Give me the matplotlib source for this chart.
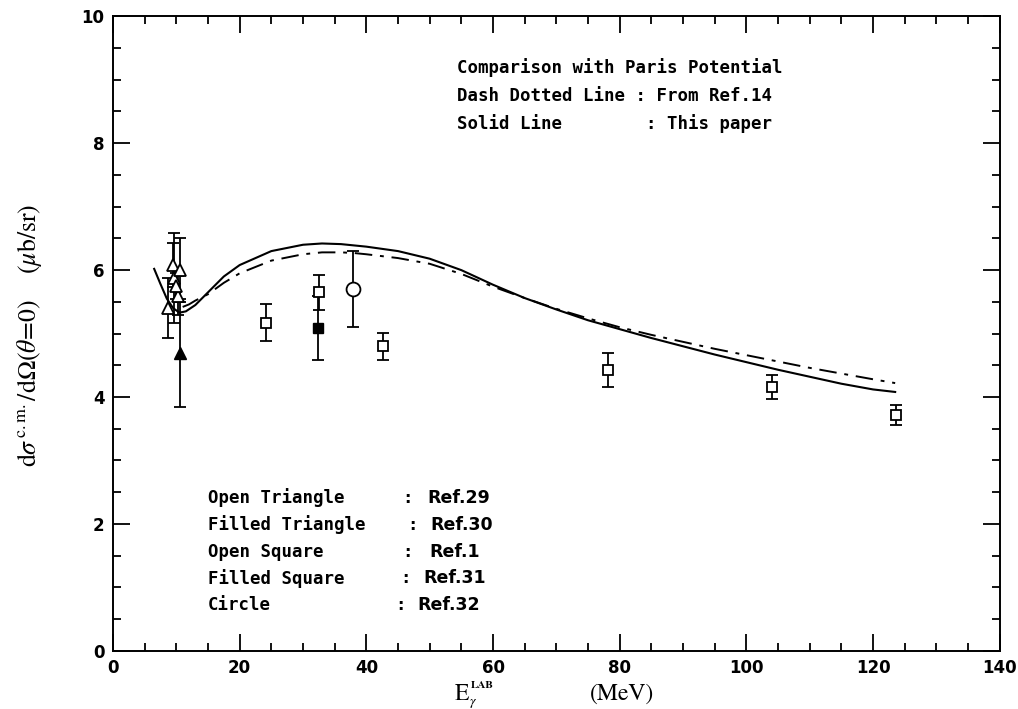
import matplotlib.pyplot as plt
import numpy as np

# --- data ---
# theory curves
solid_x = [6.5, 7.5, 8.5, 9.5, 10.5, 11.5, 13, 15, 17.5, 20, 25, 30, 33, 36, 40, 45, 50,
           55, 60, 65, 70, 75, 80, 85, 90, 95, 100, 105, 110, 115, 120, 123.5]
solid_y = [6.02, 5.78, 5.55, 5.40, 5.33, 5.35, 5.45, 5.65, 5.90, 6.08, 6.30, 6.40, 6.42,
           6.41, 6.37, 6.30, 6.18, 6.00, 5.77, 5.56, 5.38, 5.21, 5.07, 4.93, 4.80, 4.67,
           4.55, 4.43, 4.32, 4.21, 4.12, 4.08]

dashdot_x = [11, 12, 13, 15, 17.5, 20, 25, 30, 33, 36, 38, 40, 45, 50, 55, 60, 65, 70, 75,
             80, 85, 90, 95, 100, 105, 110, 115, 120, 123.5]
dashdot_y = [5.42, 5.46, 5.52, 5.62, 5.80, 5.95, 6.15, 6.25, 6.28, 6.28, 6.27, 6.25, 6.19,
             6.10, 5.94, 5.74, 5.56, 5.39, 5.24, 5.10, 4.98, 4.87, 4.76, 4.66, 4.56, 4.46,
             4.37, 4.28, 4.22]

# Ref.29 open triangles
otri_x = [8.7, 9.6, 9.4, 10.6, 10.2, 9.9]
otri_y = [5.40, 5.87, 6.08, 6.00, 5.60, 5.75]
otri_e = [0.47, 0.71, 0.35, 0.50, 0.30, 0.20]

# Ref.30 filled triangle
ftri_x = [10.6]
ftri_y = [4.69]
ftri_e = [0.85]

# Ref.1 open squares
osq_x = [24.1, 32.6, 42.6, 78.1, 104.0, 123.7]
osq_y = [5.17, 5.65, 4.80, 4.43, 4.16, 3.72]
osq_e = [0.29, 0.28, 0.21, 0.27, 0.19, 0.16]

# Ref.31 filled square
fsq_x = [32.4]
fsq_y = [5.09]
fsq_e = [0.50]

# Ref.32 circle
circ_x = [37.9]
circ_y = [5.70]
circ_e = [0.60]

plt.rcParams['mathtext.fontset'] = 'stix'

fig = plt.figure(figsize=(10.18, 7.09), dpi=100)
ax = fig.add_axes([0.111, 0.082, 0.871, 0.895])

ax.plot(solid_x, solid_y, color='black', lw=1.5)
ax.plot(dashdot_x, dashdot_y, color='black', lw=1.4, linestyle=(0, (9, 4, 2, 4)))

eb = dict(color='black', elinewidth=1.3, capsize=4.5, capthick=1.3, linestyle='none')
ax.errorbar(otri_x, otri_y, yerr=otri_e, marker='^', ms=8, mfc='white', mec='black', mew=1.3, **eb)
ax.errorbar(ftri_x, ftri_y, yerr=ftri_e, marker='^', ms=8, mfc='black', mec='black', **eb)
ax.errorbar(osq_x, osq_y, yerr=osq_e, marker='s', ms=7, mfc='white', mec='black', mew=1.3, **eb)
ax.errorbar(fsq_x, fsq_y, yerr=fsq_e, marker='s', ms=7, mfc='black', mec='black', **eb)
ax.errorbar(circ_x, circ_y, yerr=circ_e, marker='o', ms=10, mfc='white', mec='black', mew=1.3, **eb)

ax.set_xlim(0, 140)
ax.set_ylim(0, 10)
ax.set_xticks(np.arange(0, 141, 20))
ax.set_xticks(np.arange(0, 141, 5), minor=True)
ax.set_yticks(np.arange(0, 11, 2))
ax.set_yticks(np.arange(0, 10.1, 0.5), minor=True)
ax.tick_params(which='both', direction='in', top=True, right=True, width=1.3)
ax.tick_params(which='major', length=12, labelsize=12, pad=6)
ax.tick_params(which='minor', length=6)
for lab in ax.get_xticklabels() + ax.get_yticklabels():
    lab.set_fontweight('bold')
for s in ax.spines.values():
    s.set_linewidth(1.4)

# x axis title, built from pieces like the original
H, W = 709, 1018
fig.text(455 / W, 1 - 700 / H, "E", family='STIXGeneral', fontsize=17, va='baseline')
fig.text(469 / W, 1 - 705 / H, r"$\gamma$", fontsize=10, va='baseline')
fig.text(471 / W, 1 - 688 / H, "LAB", family='STIXGeneral', fontweight='bold', fontsize=8, va='baseline')
fig.text(590 / W, 1 - 700 / H, "(MeV)", family='STIXGeneral', fontsize=17, va='baseline')

# y axis title
fig.text(30 / W, 1 - 335 / H,
         r'$\mathrm{d}\sigma^{\,\mathrm{c.m.}}/\mathrm{d}\Omega(\theta\!=\!0)$    ($\mu$b/sr)',
         family='STIXGeneral', fontsize=18.5, ha='center', va='center', rotation=90)

# top legend text
top_lines = ["Comparison with Paris Potential", "Dash Dotted Line : From Ref.14",
             "Solid Line        : This paper"]
for i, t in enumerate(top_lines):
    fig.text(457 / W, 1 - (68 + 28 * i) / H, t, va='center', ha='left',
             family='DejaVu Sans Mono', fontweight='bold', fontsize=12.5)

# bottom legend text
names = ["Open Triangle", "Filled Triangle", "Open Square", "Filled Square", "Circle"]
refs = ["Ref.29", "Ref.30", "Ref.1", "Ref.31", "Ref.32"]
colon_x = [402, 407, 402, 400, 395]
ref_x = [427, 430, 429, 423, 417]
for i in range(5):
    y = 1 - (498 + 26.8 * i) / H
    fig.text(208 / W, y, names[i], va='center', ha='left',
             family='DejaVu Sans Mono', fontweight='bold', fontsize=12.5)
    fig.text(colon_x[i] / W, y, ":", va='center', ha='left',
             family='DejaVu Sans Mono', fontweight='bold', fontsize=12.5)
    fig.text(ref_x[i] / W, y, refs[i], va='center', ha='left',
             family='DejaVu Sans', fontweight='bold', fontsize=12.5)

fig.savefig('out.png', dpi=100)
